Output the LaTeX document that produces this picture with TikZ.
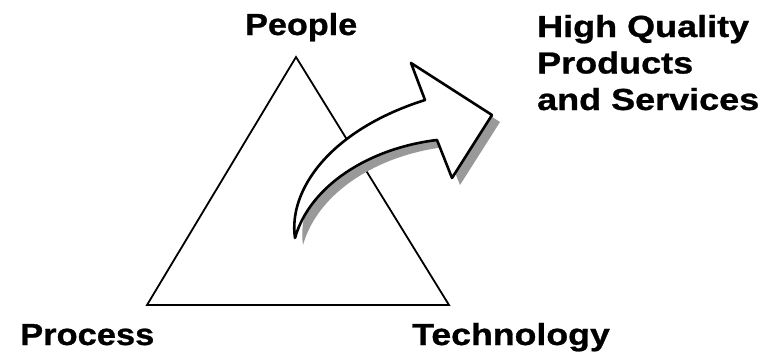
\documentclass[tikz,border=0pt]{standalone}
\usepackage{fontspec}
\setmainfont{Liberation Sans}
\newfontfamily\lblfont{Liberation Sans Bold}[FakeBold=0.8]
\begin{document}
\begin{tikzpicture}[x=1pt,y=-1pt,
  lbl/.style={anchor=base west,inner sep=0pt,font=\fontsize{30.5}{36.5}\selectfont\lblfont},
  edge/.style={line width=1.8pt,line join=miter},
  arrowbody/.style={fill=white,draw=black,line width=2.6pt,line join=round},
  shadowbody/.style={fill=black!40,draw=none}]
\useasboundingbox (0,0) rectangle (776,360);
\fill[white] (0,0) rectangle (776,360);
% triangle corners
\coordinate (apex) at (296,57);
\coordinate (bl) at (147,305);
\coordinate (br) at (449,305);
\draw[edge] (apex) -- (bl) -- (br) -- cycle;
% arrow outline as raw numbers, so that a scope shift moves it
\def\arrowoutline{(295,238) .. controls (288,190) and (330,130) .. (425,100) -- (411,63) -- (492,115) -- (452,178) -- (437,140) .. controls (370,148) and (310,185) .. (295,238) -- cycle}
% shadow
\begin{scope}[shift={(8,7)}]
\fill[shadowbody] \arrowoutline;
\end{scope}
% arrow
\draw[arrowbody] \arrowoutline;
% labels
\node[lbl] (people) at (245,35) {\scalebox{1.12}[1]{People}};
\node[lbl] (process) at (20,345) {\scalebox{1.13}[1]{Process}};
\node[lbl] (tech) at (412,345) {\scalebox{1.17}[1]{Technology}};
\node[lbl] (hq) at (537,37) {\scalebox{1.18}[1]{High Quality}};
\node[lbl] (prod) at (537,73.5) {\scalebox{1.18}[1]{Products}};
\node[lbl] (serv) at (537,110) {\scalebox{1.18}[1]{and Services}};
\end{tikzpicture}
\end{document}
